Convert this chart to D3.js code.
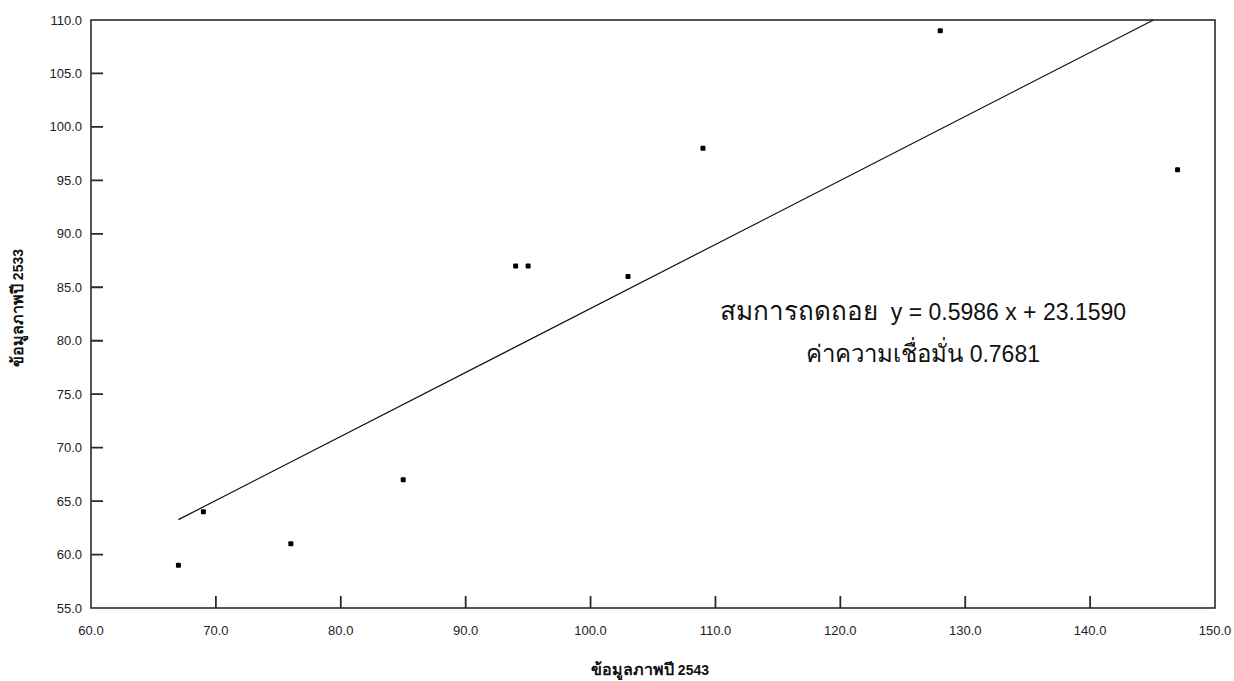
<!DOCTYPE html>
<html><head><meta charset="utf-8">
<script src="https://cdn.jsdelivr.net/npm/d3@7"></script>
<style>body{margin:0;background:#fff}svg{display:block}</style>
</head><body>
<script>
// Data
const x2543 = [67, 69, 76, 85, 94, 95, 103, 109, 128, 147];
const y2533 = [59, 64, 61, 67, 87, 87, 86, 98, 109, 96];
const xTicks = [60, 70, 80, 90, 100, 110, 120, 130, 140, 150];
const yTicks = [55, 60, 65, 70, 75, 80, 85, 90, 95, 100, 105, 110];
const regSlope = 0.5986, regIntercept = 23.1590, regR = 0.7681;
const xTitleThai = "ข้อมูลภาพปี", xTitleNum = " 2543";
const yTitleThai = "ข้อมูลภาพปี", yTitleNum = " 2533";
const eqThai = "สมการถดถอย", eqNum = "  y = 0.5986 x + 23.1590";
const rThai = "ค่าความเชื่อมั่น", rNum = " 0.7681";

const W = 1234, H = 681;
const m = {left: 91, right: 1215, top: 20, bottom: 608};
const svg = d3.select("body").append("svg").attr("width", W).attr("height", H);
const x = d3.scaleLinear().domain([60, 150]).range([m.left, m.right]);
const y = d3.scaleLinear().domain([55, 110]).range([m.bottom, m.top]);
const font = "'Liberation Sans', Arial, sans-serif";
const axisColor = "#2a2a2a";

// frame
svg.append("rect").attr("x", m.left).attr("y", m.top)
  .attr("width", m.right - m.left).attr("height", m.bottom - m.top)
  .attr("fill", "none").attr("stroke", axisColor).attr("stroke-width", 1.6);

// tick labels
svg.append("g").selectAll("text").data(xTicks).join("text")
  .attr("x", d => x(d)).attr("y", 635).attr("text-anchor", "middle")
  .text(d3.format(".1f")).style("font-family", font).style("font-size", "13px").attr("fill", "#222");
svg.append("g").selectAll("text").data(yTicks).join("text")
  .attr("x", 82).attr("y", d => y(d)).attr("dy", "0.35em").attr("text-anchor", "end")
  .text(d3.format(".1f")).style("font-family", font).style("font-size", "13px").attr("fill", "#222");

// regression line, clipped to plot
const xStart = d3.min(x2543);
const xEnd = Math.min(d3.max(x2543), (110 - regIntercept) / regSlope);
svg.append("line")
  .attr("x1", x(xStart)).attr("y1", y(regSlope * xStart + regIntercept))
  .attr("x2", x(xEnd)).attr("y2", y(regSlope * xEnd + regIntercept))
  .attr("stroke", "#111").attr("stroke-width", 1.2);

// points
svg.append("g").selectAll("rect").data(x2543.map((v, i) => [v, y2533[i]])).join("rect")
  .attr("x", d => x(d[0]) - 2.5).attr("y", d => y(d[1]) - 2.5)
  .attr("width", 5).attr("height", 5).attr("rx", 1).attr("fill", "#000");

// annotation
function mixed(xp, yp, thai, num, thaiSize, numSize, anchor, weight, transform) {
  const t = svg.append("text").attr("x", xp).attr("y", yp)
    .attr("text-anchor", anchor).style("white-space", "pre")
    .style("font-family", font).attr("fill", "#111").style("font-weight", weight);
  if (transform) t.attr("transform", transform);
  t.append("tspan").text(thai).style("font-size", thaiSize + "px");
  t.append("tspan").text(num).style("font-size", numSize + "px");
  return t;
}
mixed(720, 320, eqThai, eqNum, 26, 23, "start", "normal");
mixed(1040, 362, rThai, rNum, 24, 23, "end", "normal");

// axis titles
mixed(650, 675, xTitleThai, xTitleNum, 16, 14, "middle", "bold");
mixed(0, 0, yTitleThai, yTitleNum, 16, 14, "middle", "bold", "translate(23,308) rotate(-90)");

// inward tick marks
const tickLen = 12;
svg.append("path")
  .attr("d", xTicks.slice(1, -1).map(d => `M${x(d)},${m.bottom}V${m.bottom - tickLen}`).join("") +
             yTicks.slice(1, -1).map(d => `M${m.left},${y(d)}H${m.left + tickLen}`).join(""))
  .attr("fill", "none").attr("stroke", axisColor).attr("stroke-width", 1.8);
</script>
</body></html>
